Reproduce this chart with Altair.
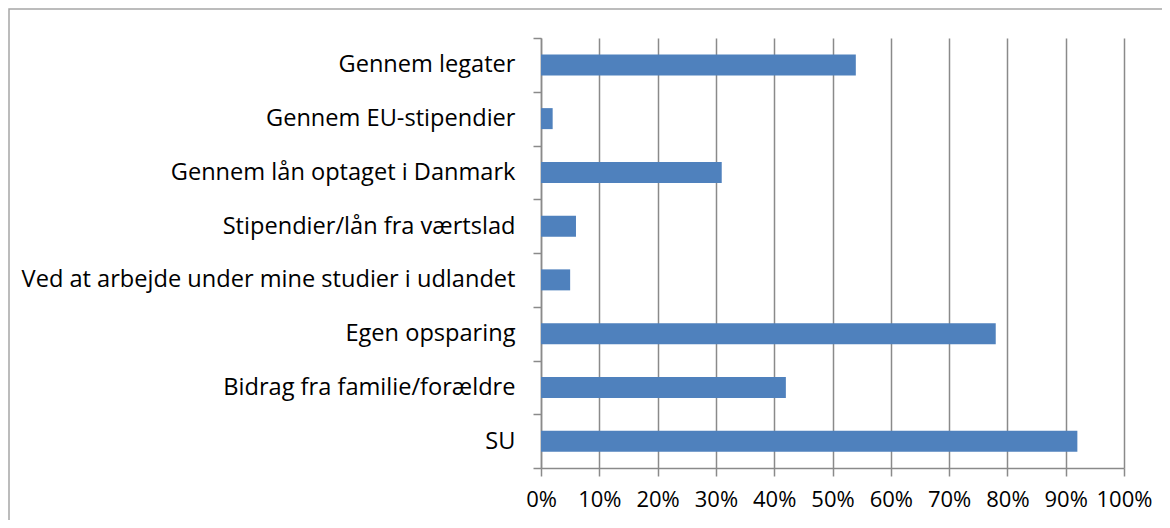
import altair as alt
import pandas as pd

categories = [
    "Gennem legater",
    "Gennem EU-stipendier",
    "Gennem lån optaget i Danmark",
    "Stipendier/lån fra værtslad",
    "Ved at arbejde under mine studier i udlandet",
    "Egen opsparing",
    "Bidrag fra familie/forældre",
    "SU",
]
values = [0.54, 0.02, 0.31, 0.06, 0.05, 0.78, 0.42, 0.92]
x_ticks = [0, 0.1, 0.2, 0.3, 0.4, 0.5, 0.6, 0.7, 0.8, 0.9, 1.0]

df = pd.DataFrame({"kategori": categories, "andel": values})

FONT = "Open Sans"
GRAY = "#8a8a8a"
W, H = 583, 430
PL, PT = 533, 30
PR = 1154 - PL - W
PB = 512 - PT - H

bars = alt.Chart(df).mark_bar(size=21, color="#4F81BD").encode(
    x=alt.X(
        "andel:Q",
        scale=alt.Scale(domain=[0, 1], nice=False),
        axis=alt.Axis(
            values=x_ticks, format=".0%", title=None,
            grid=True, gridColor=GRAY, gridWidth=1.5,
            domainColor=GRAY, domainWidth=1.5,
            tickColor=GRAY, tickWidth=1.5, tickSize=8,
            labelFont=FONT, labelFontSize=22, labelColor="#000000",
            labelPadding=13, labelFlush=False,
        ),
    ),
    y=alt.Y(
        "kategori:N",
        sort=categories,
        scale=alt.Scale(paddingInner=0, paddingOuter=0),
        axis=alt.Axis(
            title=None, tickBand="extent",
            domainColor=GRAY, domainWidth=1.5,
            tickColor=GRAY, tickWidth=1.5, tickSize=8,
            labelFont=FONT, labelFontSize=23.6, labelColor="#000000",
            labelPadding=18, labelLimit=0,
        ),
    ),
)

border = alt.Chart(alt.Data(values=[{}])).mark_rect(
    fill=None, stroke="#a6a6a6", strokeWidth=1.5
).encode(
    x=alt.value(-PL + 1),
    x2=alt.value(W + PR + 50),
    y=alt.value(-PT + 1),
    y2=alt.value(H + PB + 50),
)

chart = alt.layer(bars, border).properties(
    width=W, height=H,
    autosize=alt.AutoSizeParams(type="none"),
    padding={"left": PL, "top": PT, "right": PR, "bottom": PB},
).configure_view(stroke=None)

chart.save("out.html", embed_options={"renderer": "svg", "actions": False})
